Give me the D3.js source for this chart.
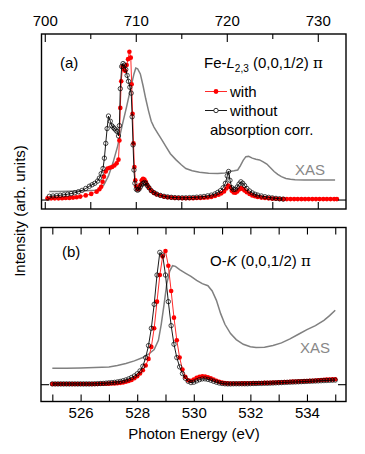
<!DOCTYPE html>
<html>
<head>
<meta charset="utf-8">
<script src="https://cdn.jsdelivr.net/npm/d3@7"></script>
<style>
  body { margin: 0; background: #fff; }
  svg { font-family: "Liberation Sans", Arial, sans-serif; }
</style>
</head>
<body>
<div id="chart"></div>
<script>
// Fe-L2,3 edge, panel (a): [photon energy (eV), intensity]
const feWith = [
  [700.3,0.008],[700.7,0.008],[701.1,0.008],[701.5,0.008],[701.9,0.009],[702.3,0.01],[702.7,0.011],[703.1,0.013],
  [703.5,0.016],[703.9,0.02],[704.5,0.028],[705.1,0.038],[705.7,0.053],[706.0,0.07],[706.2,0.087],[706.35,0.12],
  [706.5,0.155],[706.7,0.19],[706.9,0.21],[707.15,0.215],[707.4,0.22],[707.65,0.23],[707.9,0.245],[708.1,0.27],
  [708.2,0.4],[708.3,0.62],[708.4,0.8],[708.55,0.9],[708.7,0.88],[708.85,0.87],[709.0,0.91],[709.15,0.95],
  [709.3,1.0],[709.45,0.96],[709.55,0.78],[709.65,0.58],[709.75,0.38],[709.85,0.22],[709.95,0.13],[710.05,0.09],
  [710.2,0.07],[710.35,0.075],[710.5,0.1],[710.65,0.13],[710.8,0.14],[710.95,0.135],[711.1,0.12],[711.25,0.1],
  [711.45,0.08],[711.7,0.06],[712.0,0.045],[712.3,0.035],[712.7,0.027],[713.1,0.02],[713.5,0.016],[713.9,0.013],
  [714.3,0.011],[714.7,0.01],[715.1,0.009],[715.5,0.009],[715.9,0.009],[716.3,0.009],[716.7,0.01],[717.1,0.011],
  [717.5,0.012],[717.9,0.014],[718.3,0.018],[718.7,0.024],[719.1,0.032],[719.4,0.042],[719.7,0.055],[719.95,0.075],
  [720.15,0.095],[720.35,0.085],[720.55,0.06],[720.75,0.048],[720.95,0.046],[721.15,0.055],[721.35,0.068],[721.55,0.078],
  [721.75,0.072],[721.95,0.062],[722.2,0.05],[722.5,0.038],[722.8,0.028],[723.1,0.022],[723.4,0.017],[723.8,0.013],
  [724.2,0.01],[724.6,0.008],[725.0,0.006],[725.4,0.005],[725.8,0.004],[726.2,0.003],[726.6,0.003],[727.0,0.003],
  [727.4,0.003],[727.8,0.003],[728.2,0.003],[728.6,0.003],[729.0,0.003],[729.4,0.003],[729.8,0.003],[730.2,0.003],
  [730.6,0.003],[731.0,0.003],[731.4,0.003],[731.8,0.003],[732.1,0.003]
];
const feWithout = [
  [700.5,0.022],[700.9,0.024],[701.3,0.026],[701.7,0.029],[702.1,0.032],[702.5,0.036],[702.9,0.04],[703.3,0.046],
  [703.7,0.053],[704.1,0.062],[704.5,0.075],[704.9,0.09],[705.2,0.1],[705.5,0.11],[705.8,0.125],[706.0,0.145],
  [706.2,0.175],[706.4,0.21],[706.55,0.28],[706.7,0.38],[706.85,0.48],[707.0,0.565],[707.2,0.53],[707.35,0.5],
  [707.5,0.49],[707.65,0.48],[707.8,0.47],[707.95,0.46],[708.1,0.43],[708.2,0.5],[708.3,0.75],[708.45,0.9],
  [708.6,0.92],[708.75,0.91],[708.9,0.88],[709.05,0.84],[709.2,0.8],[709.35,0.76],[709.5,0.72],[709.6,0.56],
  [709.7,0.37],[709.8,0.2],[709.9,0.11],[710.05,0.07],[710.2,0.063],[710.35,0.07],[710.5,0.085],[710.65,0.1],
  [710.8,0.11],[710.95,0.115],[711.1,0.11],[711.25,0.095],[711.45,0.08],[711.7,0.06],[712.0,0.047],[712.3,0.037],
  [712.7,0.028],[713.1,0.022],[713.5,0.018],[713.9,0.015],[714.3,0.013],[714.7,0.012],[715.1,0.012],[715.5,0.012],
  [715.9,0.013],[716.3,0.014],[716.7,0.016],[717.1,0.018],[717.5,0.021],[717.9,0.025],[718.3,0.03],[718.7,0.038],
  [719.0,0.048],[719.3,0.06],[719.6,0.08],[719.85,0.11],[720.05,0.16],[720.2,0.19],[720.35,0.13],[720.55,0.08],
  [720.75,0.068],[720.95,0.07],[721.15,0.085],[721.35,0.105],[721.55,0.12],[721.75,0.11],[721.95,0.095],[722.2,0.075],
  [722.5,0.058],[722.8,0.045],[723.1,0.036],[723.4,0.03],[723.8,0.024],[724.2,0.019],[724.6,0.015],[725.0,0.011],
  [725.4,0.008],[725.8,0.005],[726.2,0.003]
];
const feXas = [
  [700.5,0.055],[701.5,0.055],[702.5,0.056],[703.5,0.058],[704.5,0.06],[705.5,0.063],[706.0,0.07],[706.5,0.1],
  [707.0,0.16],[707.5,0.25],[708.0,0.36],[708.5,0.5],[709.0,0.63],[709.5,0.77],[709.8,0.85],[710.0,0.89],
  [710.2,0.885],[710.5,0.85],[710.8,0.77],[711.1,0.68],[711.4,0.6],[711.7,0.53],[712.0,0.49],[712.4,0.45],
  [712.8,0.41],[713.3,0.36],[713.8,0.31],[714.4,0.27],[715.0,0.235],[715.5,0.21],[716.2,0.195],[717.0,0.185],
  [718.0,0.178],[719.0,0.177],[719.8,0.18],[720.3,0.19],[720.8,0.195],[721.2,0.2],[721.5,0.23],[721.8,0.265],
  [722.1,0.29],[722.4,0.292],[722.8,0.28],[723.2,0.272],[723.6,0.268],[724.0,0.255],[724.4,0.24],[724.8,0.215],
  [725.2,0.19],[725.6,0.17],[726.0,0.155],[726.5,0.143],[727.0,0.137],[727.5,0.134],[728.5,0.133],[729.5,0.132],
  [730.5,0.133],[731.5,0.132],[731.9,0.132]
];

// O-K edge, panel (b): energies shared by both RXS series
const oEnergy = [
  525.0,525.1,525.2,525.3,525.4,525.5,525.6,525.7,525.8,525.9,
  526.0,526.1,526.2,526.3,526.4,526.5,526.6,526.7,526.8,526.9,
  527.0,527.1,527.2,527.3,527.4,527.5,527.6,527.7,527.8,527.9,
  528.0,528.1,528.2,528.3,528.4,528.5,528.6,528.7,528.8,528.9,
  529.0,529.1,529.2,529.3,529.4,529.5,529.6,529.7,529.8,529.9,
  530.0,530.1,530.2,530.3,530.4,530.5,530.6,530.7,530.8,530.9,
  531.0,531.1,531.2,531.3,531.4,531.5,531.6,531.7,531.8,531.9,
  532.0,532.1,532.2,532.3,532.4,532.5,532.6,532.7,532.8,532.9,
  533.0,533.1,533.2,533.3,533.4,533.5,533.6,533.7,533.8,533.9,
  534.0,534.1,534.2,534.3,534.4,534.5,534.6,534.7,534.8,534.9,
  535.0
];
const oWith = [
  0.002,0.002,0.002,0.002,0.002,0.002,0.002,0.002,0.002,0.002,
  0.002,0.002,0.002,0.002,0.002,0.002,0.002,0.003,0.003,0.003,
  0.004,0.005,0.006,0.008,0.01,0.013,0.018,0.024,0.032,0.045,
  0.06,0.08,0.105,0.14,0.19,0.28,0.42,0.62,0.82,0.96,
  1.0,0.89,0.7,0.5,0.33,0.2,0.11,0.055,0.03,0.025,
  0.035,0.048,0.056,0.06,0.058,0.052,0.044,0.035,0.026,0.018,
  0.012,0.008,0.006,0.005,0.005,0.005,0.005,0.006,0.006,0.007,
  0.007,0.008,0.008,0.009,0.009,0.01,0.01,0.011,0.012,0.013,
  0.014,0.015,0.016,0.017,0.018,0.019,0.02,0.021,0.022,0.023,
  0.024,0.025,0.026,0.028,0.03,0.032,0.033,0.034,0.035,0.036,
  0.037
];
const oWithout = [
  0.002,0.002,0.002,0.002,0.002,0.002,0.002,0.002,0.002,0.002,
  0.002,0.002,0.002,0.002,0.002,0.003,0.004,0.005,0.006,0.008,
  0.01,0.012,0.014,0.017,0.021,0.026,0.032,0.04,0.05,0.062,
  0.078,0.1,0.135,0.2,0.29,0.42,0.6,0.82,0.99,0.97,
  0.82,0.62,0.44,0.3,0.2,0.13,0.08,0.045,0.022,0.012,
  0.015,0.025,0.034,0.04,0.04,0.036,0.03,0.022,0.015,0.009,
  0.005,0.003,0.002,0.002,0.003,0.003,0.003,0.003,0.003,0.003,
  0.004,0.005,0.005,0.006,0.006,0.007,0.007,0.008,0.009,0.01,
  0.011,0.012,0.013,0.014,0.015,0.016,0.017,0.018,0.019,0.02,
  0.021,0.022,0.023,0.024,0.025,0.026,0.027,0.028,0.029,0.03,
  0.031
];
const oXas = [
  [525.0,0.12],[525.5,0.12],[526.0,0.122],[526.5,0.125],[527.0,0.13],[527.3,0.14],[527.6,0.155],[527.9,0.175],
  [528.2,0.2],[528.4,0.225],[528.6,0.26],[528.75,0.33],[528.85,0.45],[528.95,0.6],[529.05,0.76],[529.15,0.85],
  [529.25,0.89],[529.35,0.885],[529.5,0.86],[529.7,0.835],[529.9,0.81],[530.1,0.78],[530.3,0.755],[530.5,0.74],
  [530.65,0.7],[530.8,0.63],[530.95,0.53],[531.1,0.45],[531.3,0.38],[531.5,0.335],[531.75,0.3],[532.0,0.282],
  [532.2,0.276],[532.5,0.278],[532.8,0.29],[533.1,0.31],[533.4,0.34],[533.7,0.375],[534.0,0.41],[534.3,0.44],
  [534.6,0.48],[534.8,0.515],[535.0,0.556]
];

const feTopTicks = [700, 710, 720, 730];
const feMinorTicks = [705, 715, 725];
const feBottomTicks = [700, 705, 710, 715, 720, 725, 730];
const oTicks = [525, 526, 527, 528, 529, 530, 531, 532, 533, 534, 535];
const oLabeled = [526, 528, 530, 532, 534];

const svg = d3.select("#chart")
    .append("svg")
    .attr("width", 365)
    .attr("height", 454);

const fs = 15;

function drawPanel(p) {
    const g = svg.append("g");
    const x = d3.scaleLinear().domain(p.xDomain).range([p.left, p.right]);
    const y = d3.scaleLinear().domain(p.yDomain).range([p.bottom, p.top]);
    const line = d3.line().x(d => x(d[0])).y(d => y(d[1]));

    // XAS reference curve
    g.append("path")
        .datum(p.xas)
        .attr("fill", "none")
        .attr("stroke", "#808080")
        .attr("stroke-width", 1.5)
        .attr("d", line);

    // with absorption correction
    g.append("path")
        .datum(p.withData)
        .attr("fill", "none")
        .attr("stroke", "#ff2a2a")
        .attr("stroke-width", 1)
        .attr("d", line);
    g.selectAll(".with")
        .data(p.withData)
        .join("circle")
        .attr("class", "with")
        .attr("cx", d => x(d[0]))
        .attr("cy", d => y(d[1]))
        .attr("r", 2.3)
        .attr("fill", "#ff0000");

    // without correction
    g.append("path")
        .datum(p.withoutData)
        .attr("fill", "none")
        .attr("stroke", "#000")
        .attr("stroke-width", 0.9)
        .attr("d", line);
    g.selectAll(".without")
        .data(p.withoutData)
        .join("circle")
        .attr("class", "without")
        .attr("cx", d => x(d[0]))
        .attr("cy", d => y(d[1]))
        .attr("r", 2.2)
        .attr("fill", "none")
        .attr("stroke", "#000")
        .attr("stroke-width", 0.7);

    // frame
    g.append("rect")
        .attr("x", p.left)
        .attr("y", p.top)
        .attr("width", p.right - p.left)
        .attr("height", p.bottom - p.top)
        .attr("fill", "none")
        .attr("stroke", "#000")
        .attr("stroke-width", 1.4);

    // zero marks on both sides
    g.append("g")
        .attr("transform", `translate(${p.left},0)`)
        .call(d3.axisLeft(y).tickValues([0]).tickSize(-8).tickFormat(""));
    g.append("g")
        .attr("transform", `translate(${p.right},0)`)
        .call(d3.axisRight(y).tickValues([0]).tickSize(-8).tickFormat(""));

    g.selectAll(".domain").remove();
    return { g, x, y };
}

// ---- panel (a)
const a = drawPanel({
    left: 41.5, right: 346, top: 34, bottom: 209,
    xDomain: [699.64, 733.1], yDomain: [-0.064, 1.12],
    xas: feXas, withData: feWith, withoutData: feWithout
});
a.g.append("g")
    .attr("transform", "translate(0,34)")
    .call(d3.axisTop(a.x).tickValues(feTopTicks).tickSize(-8).tickPadding(8))
    .call(ax => ax.select(".domain").remove());
a.g.append("g")
    .attr("transform", "translate(0,34)")
    .call(d3.axisTop(a.x).tickValues(feMinorTicks).tickSize(-5).tickFormat(""))
    .call(ax => ax.select(".domain").remove());
a.g.append("g")
    .attr("transform", "translate(0,209)")
    .call(d3.axisBottom(a.x).tickValues(feBottomTicks).tickSize(-7).tickFormat(""))
    .call(ax => ax.select(".domain").remove());

// ---- panel (b)
const b = drawPanel({
    left: 41, right: 346, top: 227.5, bottom: 401.5,
    xDomain: [524.6, 535.38], yDomain: [-0.13, 1.177],
    xas: oXas,
    withData: oEnergy.map((e, i) => [e, oWith[i]]),
    withoutData: oEnergy.map((e, i) => [e, oWithout[i]])
});
b.g.append("g")
    .attr("transform", "translate(0,227.5)")
    .call(d3.axisTop(b.x).tickValues(oTicks).tickSize(-7).tickFormat(""))
    .call(ax => ax.select(".domain").remove());
b.g.append("g")
    .attr("transform", "translate(0,401.5)")
    .call(d3.axisBottom(b.x).tickValues(oTicks).tickSize(-7).tickPadding(6)
        .tickFormat(d => oLabeled.includes(d) ? d : ""))
    .call(ax => ax.select(".domain").remove());

svg.selectAll(".tick line").attr("stroke", "#000").attr("stroke-width", 1.1);
svg.selectAll(".tick text")
    .attr("fill", "#000")
    .style("font-size", fs + "px")
    .style("font-family", "'Liberation Sans', Arial, sans-serif");

// ---- annotations
function label(x, y, t, opts = {}) {
    return svg.append("text")
        .attr("x", x).attr("y", y)
        .attr("fill", opts.fill || "#000")
        .style("font-size", (opts.size || fs) + "px")
        .text(t);
}

label(60, 68, "(a)");
label(62, 257, "(b)");

const fe = svg.append("text").attr("x", 204).attr("y", 68).style("font-size", fs + "px");
fe.append("tspan").text("Fe-");
fe.append("tspan").style("font-style", "italic").text("L");
fe.append("tspan").attr("dy", 4).style("font-size", "10px").text("2,3");
fe.append("tspan").attr("dy", -4).text(" (0,0,1/2) ");
fe.append("tspan").style("font-family", "'DejaVu Serif', serif").text("π");

const ok = svg.append("text").attr("x", 210).attr("y", 266).style("font-size", fs + "px");
ok.append("tspan").text("O-");
ok.append("tspan").style("font-style", "italic").text("K");
ok.append("tspan").text(" (0,0,1/2) ");
ok.append("tspan").style("font-family", "'DejaVu Serif', serif").text("π");

label(295, 175, "XAS", { fill: "#888" });
label(300, 353, "XAS", { fill: "#888" });

// legend
const legend = svg.append("g");
legend.append("line").attr("x1", 205).attr("x2", 227).attr("y1", 91.5).attr("y2", 91.5)
    .attr("stroke", "#ff2a2a").attr("stroke-width", 1);
legend.append("circle").attr("cx", 216).attr("cy", 91.5).attr("r", 2.4).attr("fill", "#ff0000");
legend.append("line").attr("x1", 205).attr("x2", 227).attr("y1", 110.5).attr("y2", 110.5)
    .attr("stroke", "#000").attr("stroke-width", 0.9);
legend.append("circle").attr("cx", 216).attr("cy", 110.5).attr("r", 2.2)
    .attr("fill", "#fff").attr("stroke", "#000").attr("stroke-width", 0.8);
label(230, 97, "with");
label(230, 116, "without");
label(210, 135, "absorption corr.");

// axis titles
label(194, 439, "Photon Energy (eV)").attr("text-anchor", "middle");
svg.append("text")
    .attr("transform", "translate(25,211) rotate(-90)")
    .attr("text-anchor", "middle")
    .style("font-size", fs + "px")
    .text("Intensity (arb. units)");
</script>
</body>
</html>
